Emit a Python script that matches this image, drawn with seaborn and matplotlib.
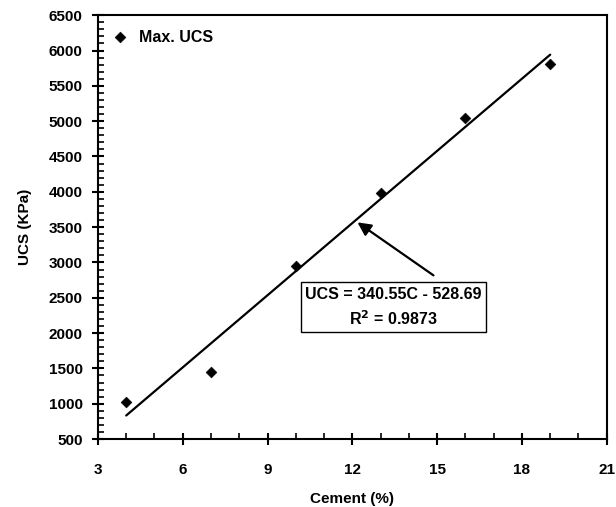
import numpy as np
import pandas as pd
import seaborn as sns
import matplotlib.pyplot as plt
from matplotlib.ticker import MultipleLocator

# data
cement = [4, 7, 10, 13, 16, 19]
ucs = [1030, 1445, 2950, 3980, 5040, 5810]
slope = 340.55
intercept = -528.69
fit_x = [4, 19]

sns.set_style("white")
plt.rcParams['font.family'] = ['Liberation Sans', 'DejaVu Sans']
plt.rcParams['font.weight'] = 'bold'
plt.rcParams['text.color'] = 'black'
plt.rcParams['axes.labelcolor'] = 'black'
plt.rcParams['xtick.color'] = 'black'
plt.rcParams['ytick.color'] = 'black'

d = pd.DataFrame({'Cement': cement, 'UCS': ucs})
fit = pd.DataFrame({'Cement': fit_x, 'UCS': [slope * c + intercept for c in fit_x]})

fig = plt.figure(figsize=(6.16, 5.07), dpi=100)
ax = fig.add_axes([0.159, 0.134, 0.826, 0.836])

sns.lineplot(x='Cement', y='UCS', data=fit, color='black', linewidth=1.6, ax=ax)
sns.scatterplot(x='Cement', y='UCS', data=d, marker='D', color='black', s=30,
                edgecolor='black', label='Max. UCS', ax=ax, zorder=3)

ax.set_xlim(3, 21)
ax.set_ylim(500, 6500)
ax.xaxis.set_major_locator(MultipleLocator(3))
ax.xaxis.set_minor_locator(MultipleLocator(1))
ax.yaxis.set_major_locator(MultipleLocator(500))
ax.yaxis.set_minor_locator(MultipleLocator(100))
ax.tick_params(which='major', direction='inout', length=8, width=1.5, labelsize=11)
ax.tick_params(which='minor', direction='in', length=4, width=1.2)
ax.tick_params(axis='x', which='major', pad=13)
ax.tick_params(axis='y', which='major', pad=7)
ax.tick_params(left=True, bottom=True, which='both')
for lab in ax.get_xticklabels() + ax.get_yticklabels():
    lab.set_fontweight('bold')
for s in ax.spines.values():
    s.set_linewidth(1.5)
    s.set_color('black')

ax.set_xlabel('Cement (%)', fontsize=11, fontweight='bold', labelpad=11)
ax.set_ylabel('UCS (KPa)', fontsize=11, fontweight='bold', labelpad=12)

ax.legend(loc='upper left', frameon=False, handlelength=1.0, handletextpad=0.7,
          borderaxespad=0.5, prop={'weight': 'bold', 'size': 11.5})

ax.annotate('', xy=(12.1, 3590), xytext=(14.95, 2795),
            arrowprops=dict(arrowstyle='-|>', color='black', lw=1.6, mutation_scale=20))
ax.text(13.45, 2365, 'UCS = 340.55C - 528.69\nR$^{\\mathbf{2}}$ = 0.9873', ha='center', va='center',
        fontsize=11.5, fontweight='bold', linespacing=1.45,
        bbox=dict(boxstyle='square,pad=0.28', facecolor='white', edgecolor='black', linewidth=1))

plt.savefig('out.png', dpi=100)
